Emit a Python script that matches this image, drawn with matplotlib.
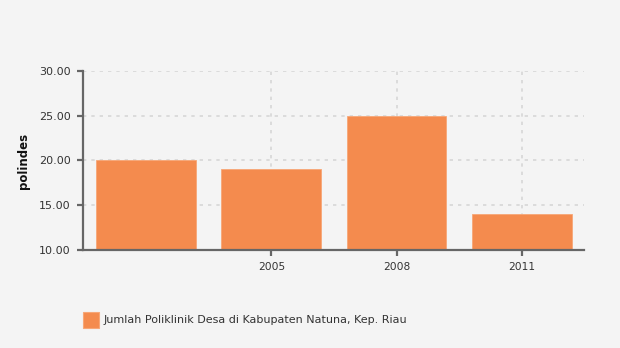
import numpy as np
import matplotlib.pyplot as plt
from matplotlib.patches import Rectangle

# data
years = [2002, 2005, 2008, 2011]
values = [20.0, 19.1, 25.0, 14.0]
tick_years = [2005, 2008, 2011]
series_name = "Jumlah Poliklinik Desa di Kabupaten Natuna, Kep. Riau"

bg = "#f4f4f4"
bar_color = "#f48b4e"
axis_color = "#666666"

fig = plt.figure(figsize=(6.2, 3.48), dpi=100, facecolor=bg)
ax = fig.add_axes([83 / 620, 1 - 250 / 348, (584 - 83) / 620, (250 - 71) / 348])
ax.set_facecolor(bg)

ax.bar(years, np.array(values) - 10, bottom=10, width=2.39, color=bar_color,
       edgecolor="#f7a777", linewidth=0.6, zorder=3)

ax.set_xlim(2000.49, 2012.49)
ax.set_ylim(10, 30)
ax.set_xticks(tick_years)
ax.set_yticks([10, 15, 20, 25, 30])
ax.set_yticklabels([f"{v:.2f}" for v in [10, 15, 20, 25, 30]])

ax.grid(True, color="#d6d6d6", linestyle=(0, (2, 3)), linewidth=1.2, zorder=0)

for side in ["top", "right"]:
    ax.spines[side].set_visible(False)
for side in ["left", "bottom"]:
    ax.spines[side].set_color(axis_color)
    ax.spines[side].set_linewidth(1.6)
    ax.spines[side].set_zorder(4)

ax.tick_params(axis="both", colors=axis_color, length=4, width=1.6,
               labelsize=8, labelcolor="#333333")
ax.tick_params(axis="x", pad=5, labelsize=7.7)
ax.tick_params(axis="y", pad=5)

ax.set_ylabel("polindes", fontsize=8.5, fontweight="bold", color="#111111", labelpad=6)

# legend
fig.patches.append(Rectangle((83 / 620, 1 - 328 / 348), 16 / 620, 16 / 348,
                             transform=fig.transFigure, facecolor=bar_color,
                             edgecolor="#f7a777", linewidth=0.8))
fig.text(104 / 620, 1 - 320 / 348, series_name, fontsize=8, color="#333333",
         va="center", ha="left")

fig.savefig("out.png", dpi=100, facecolor=bg)
